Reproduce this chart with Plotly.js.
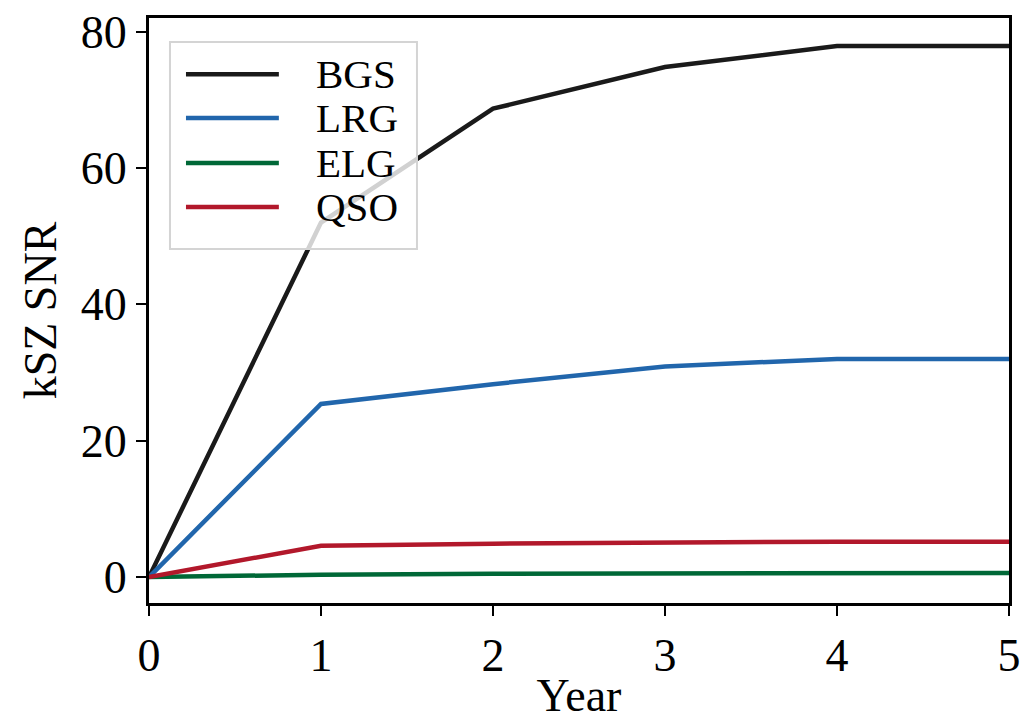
<!DOCTYPE html>
<html><head><meta charset="utf-8">
<script src="https://cdn.plot.ly/plotly-3.0.1.min.js"></script>
<style>html,body{margin:0;padding:0;background:#fff}#chart{width:1023px;height:721px}</style>
</head><body><div id="chart"></div>
<script>
const years = [0, 1, 2, 3, 4, 5];
const bgs = [0, 52.0, 68.7, 74.8, 77.9, 77.9];
const lrg = [0, 25.4, 28.3, 30.9, 32.0, 32.0];
const elg = [0, 0.35, 0.5, 0.55, 0.6, 0.6];
const qso = [0, 4.6, 4.9, 5.1, 5.2, 5.2];
const names = ['BGS', 'LRG', 'ELG', 'QSO'];
const colors = ['#1a1a1a', '#2166ac', '#006837', '#b2182b'];
const series = [bgs, lrg, elg, qso];

const FONT = 'Liberation Serif, Times New Roman, serif';
const traces = series.map((s, i) => ({
  x: years, y: s, name: names[i], type: 'scatter', mode: 'lines',
  line: {color: colors[i], width: 4.5}, showlegend: false
}));

// Legend box (matplotlib style) drawn in paper coordinates
const L = {x0: 0.0244, x1: 0.3116, y0: 0.605, y1: 0.959,
           lx0: 0.043, lx1: 0.151, tx: 0.192, rows: [0.904, 0.829, 0.752, 0.677]};
const shapes = [{type: 'rect', xref: 'paper', yref: 'paper', layer: 'above',
  x0: L.x0, x1: L.x1, y0: L.y0, y1: L.y1,
  fillcolor: 'rgba(255,255,255,0.8)', line: {color: '#d4d4d4', width: 2}}];
const annotations = [];
names.forEach((n, i) => {
  shapes.push({type: 'line', xref: 'paper', yref: 'paper', layer: 'above',
    x0: L.lx0, x1: L.lx1, y0: L.rows[i], y1: L.rows[i],
    line: {color: colors[i], width: 4.5}});
  annotations.push({xref: 'paper', yref: 'paper', x: L.tx, y: L.rows[i],
    xanchor: 'left', yanchor: 'middle', text: n, showarrow: false,
    font: {family: FONT, size: 41, color: '#000'}});
});

const layout = {
  width: 1023, height: 721,
  margin: {l: 149, r: 14, t: 18, b: 118},
  paper_bgcolor: '#fff', plot_bgcolor: '#fff',
  font: {family: FONT, color: '#000', size: 44},
  showlegend: false,
  shapes: shapes, annotations: annotations,
  xaxis: {
    range: [0, 5], tickvals: [0, 1, 2, 3, 4, 5], ticktext: ['0','1','2','3','4','5'],
    showgrid: false, zeroline: false,
    showline: true, mirror: true, linecolor: '#000', linewidth: 3,
    ticks: 'outside', ticklen: 10, tickwidth: 2, tickcolor: '#000',
    tickfont: {family: FONT, size: 46},
    title: {text: 'Year', font: {family: FONT, size: 46}, standoff: 12}
  },
  yaxis: {
    range: [-3.8, 82], tickvals: [0, 20, 40, 60, 80],
    showgrid: false, zeroline: false,
    showline: true, mirror: true, linecolor: '#000', linewidth: 3,
    ticks: 'outside', ticklen: 10, tickwidth: 2, tickcolor: '#000',
    tickfont: {family: FONT, size: 46},
    title: {text: 'kSZ SNR', font: {family: FONT, size: 46}, standoff: 10}
  }
};
Plotly.newPlot('chart', traces, layout, {staticPlot: true});
</script></body></html>
